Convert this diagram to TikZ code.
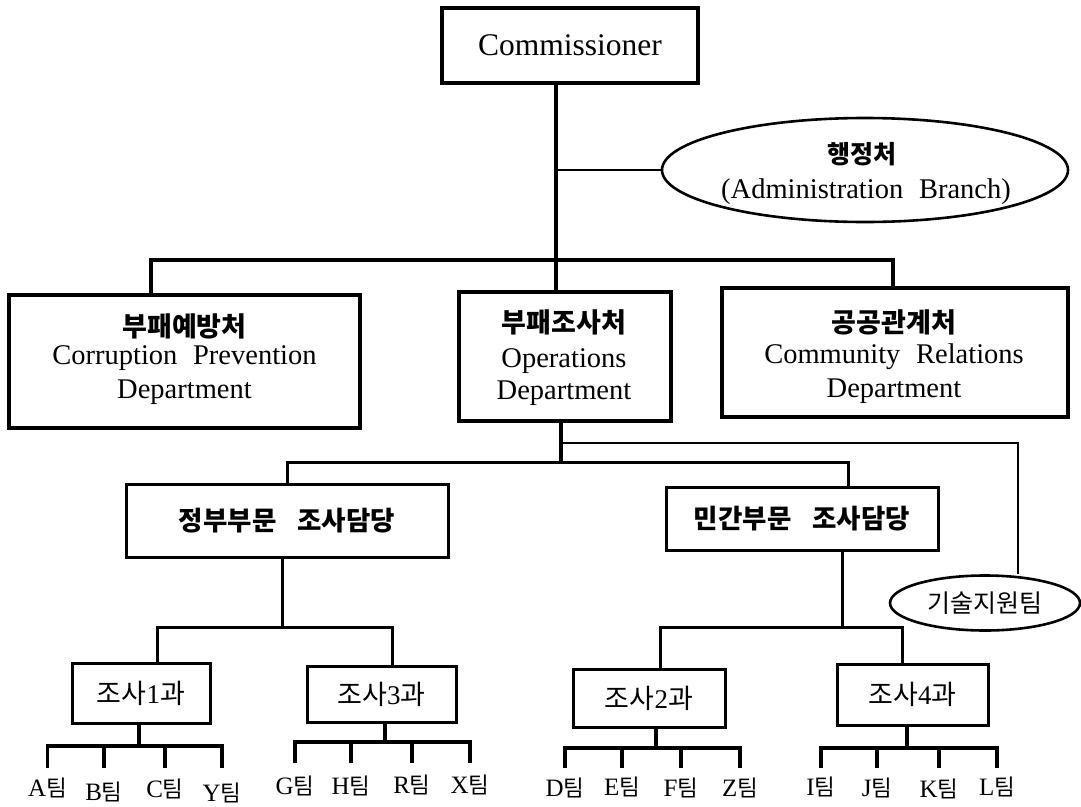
\documentclass[tikz,border=0pt]{standalone}
\usepackage{fontspec}
\setmainfont{Liberation Serif}
\newfontfamily\kr{Noto Sans CJK KR}
\usetikzlibrary{shapes.geometric}
\newcommand\kor[1]{{\kr #1}}
\newcommand\korb[1]{{\kr\bfseries #1}}
\newcommand\tm{{\kr\fontsize{22.5}{26}\selectfont 팀}}
\begin{document}
\begin{tikzpicture}[x=1pt,y=-1pt,
  bigbox/.style={draw, rectangle, line width=3.8pt, inner sep=0pt},
  midbox/.style={draw, rectangle, line width=3pt, inner sep=0pt},
  smallbox/.style={draw, rectangle, line width=3pt, inner sep=0pt, font=\fontsize{27}{31}\selectfont},
  oval/.style={draw, ellipse, line width=2.6pt, inner sep=0pt},
  thk/.style={line width=3.6pt},
  med/.style={line width=3pt},
  thin/.style={line width=2.6pt},
  tl/.style={line width=3.3pt, line join=miter},
  en/.style={inner sep=0pt, anchor=base, font=\fontsize{28.5}{34}\selectfont},
  hk/.style={inner sep=0pt, font=\fontsize{27}{31}\selectfont},
  team/.style={inner sep=0pt, anchor=base, font=\fontsize{25}{28}\selectfont}]
\useasboundingbox (0,0) rectangle (1081,806);
\fill[white] (0,0) rectangle (1081,806);

% ---- top level ----
\node[bigbox, minimum width=256pt, minimum height=75pt, font=\fontsize{31.5}{36}\selectfont] (comm) at (570,45.5) {Commissioner};

\node[oval, minimum width=406pt, minimum height=104pt] (admin) at (865,170) {};
\node[hk, font=\fontsize{25}{29}\selectfont] (adminK) at (862,154) {\korb{행정처}};
\node[en] (adminE) at (866,198) {(Administration\hspace*{0.3em} Branch)};

% ---- departments ----
\node[bigbox, minimum width=351pt, minimum height=133pt] (cpd) at (184.5,361.5) {};
\node[hk] (cpdK) at (184.5,326) {\korb{부패예방처}};
\node[en] (cpdE1) at (184.5,364) {Corruption\hspace*{0.3em} Prevention};
\node[en] (cpdE2) at (184.5,398) {Department};

\node[bigbox, minimum width=212pt, minimum height=129pt] (ops) at (565,356.5) {};
\node[hk] (opsK) at (564,322) {\korb{부패조사처}};
\node[en] (opsE1) at (564,367) {Operations};
\node[en] (opsE2) at (564,399) {Department};

\node[bigbox, minimum width=346pt, minimum height=129pt] (crd) at (895,352.5) {};
\node[hk] (crdK) at (894,322) {\korb{공공관계처}};
\node[en] (crdE1) at (894,363) {Community\hspace*{0.3em} Relations};
\node[en] (crdE2) at (894,397) {Department};

% ---- divisions ----
\node[midbox, minimum width=322pt, minimum height=73pt, font=\fontsize{26.5}{30}\selectfont] (gov) at (287,520.5) {\korb{정부부문\hspace*{0.8em}조사담당}};
\node[midbox, minimum width=272pt, minimum height=63pt, font=\fontsize{26.5}{30}\selectfont] (priv) at (802,518.5) {\korb{민간부문\hspace*{0.8em}조사담당}};
\node[oval, minimum width=190pt, minimum height=55pt, font=\fontsize{25}{29}\selectfont] (tech) at (985,603) {\kor{기술지원팀}};

% ---- sections ----
\node[smallbox, minimum width=138pt, minimum height=60pt] (s1) at (141,693) {\kor{조사}1\kor{과}};
\node[smallbox, minimum width=149pt, minimum height=56pt] (s3) at (381.5,694) {\kor{조사}3\kor{과}};
\node[smallbox, minimum width=152pt, minimum height=58pt] (s2) at (649,698) {\kor{조사}2\kor{과}};
\node[smallbox, minimum width=151pt, minimum height=61pt] (s4) at (912.5,694.5) {\kor{조사}4\kor{과}};

% ---- teams ----
\node[team] (tA) at (47.5,796) {A\tm};
\node[team] (tB) at (104,800) {B\tm};
\node[team] (tC) at (165,797) {C\tm};
\node[team] (tY) at (222,801) {Y\tm};
\node[team] (tG) at (295,794) {G\tm};
\node[team] (tH) at (351,794) {H\tm};
\node[team] (tR) at (412,793) {R\tm};
\node[team] (tX) at (470,793) {X\tm};
\node[team] (tD) at (565,796) {D\tm};
\node[team] (tE) at (622,795) {E\tm};
\node[team] (tF) at (681,796) {F\tm};
\node[team] (tZ) at (740,796) {Z\tm};
\node[team] (tI) at (821,795) {I\tm};
\node[team] (tJ) at (877,796) {J\tm};
\node[team] (tK) at (939,797) {K\tm};
\node[team] (tL) at (997,795) {L\tm};

% ---- junction coordinates ----
\coordinate (bC) at (556,260);
\coordinate (bL) at (151,260);
\coordinate (bR) at (893,260);
\coordinate (oB) at (561,462);
\coordinate (tJn) at (561,443);
\coordinate (tRt) at (1018,443);
\coordinate (gL) at (287,462);
\coordinate (gR) at (848,462);
\coordinate (g1) at (282,627);
\coordinate (g1L) at (157,627);
\coordinate (g1R) at (392,627);
\coordinate (p1) at (842,627);
\coordinate (p1L) at (660,627);
\coordinate (p1R) at (902,627);
\coordinate (s1J) at (139,746);
\coordinate (s3J) at (385,742);
\coordinate (s2J) at (656,748);
\coordinate (s4J) at (907,748);
\coordinate (eA) at (0,768);
\coordinate (eG) at (0,763);

% ---- connectors ----
\draw[thk] (comm.south -| bC) -- (bC);
\draw[thin] (admin.west -| bC) -- (admin.west);
\draw[thk, line join=miter] (cpd.north -| bL) |- (bC) -| (crd.north -| bR);
\draw[thk] (bC) -- (ops.north -| bC);

\draw[thk] (ops.south -| oB) -- (oB);
\draw[thin, line join=miter] (tJn) -| (tRt |- tech.north);
\draw[med, line join=miter] (gov.north -| gL) |- (oB) -| (priv.north -| gR);

\draw[med] (gov.south -| g1) -- (g1);
\draw[med, line join=miter] (s1.north -| g1L) |- (g1) -| (s3.north -| g1R);
\draw[med] (priv.south -| p1) -- (p1);
\draw[med, line join=miter] (s2.north -| p1L) |- (p1) -| (s4.north -| p1R);

\draw[tl] (s1.south -| s1J) -- (s1J);
\draw[tl] (tA.north |- eA) |- (s1J) -| (tY.north |- eA);
\draw[tl] (tB.north |- s1J) -- (tB.north |- eA);
\draw[tl] (tC.north |- s1J) -- (tC.north |- eA);

\draw[tl] (s3.south -| s3J) -- (s3J);
\draw[tl] (tG.north |- eG) |- (s3J) -| (tX.north |- eG);
\draw[tl] (tH.north |- s3J) -- (tH.north |- eG);
\draw[tl] (tR.north |- s3J) -- (tR.north |- eG);

\draw[tl] (s2.south -| s2J) -- (s2J);
\draw[tl] (tD.north |- eA) |- (s2J) -| (tZ.north |- eA);
\draw[tl] (tE.north |- s2J) -- (tE.north |- eA);
\draw[tl] (tF.north |- s2J) -- (tF.north |- eA);

\draw[tl] (s4.south -| s4J) -- (s4J);
\draw[tl] (tI.north |- eA) |- (s4J) -| (tL.north |- eA);
\draw[tl] (tJ.north |- s4J) -- (tJ.north |- eA);
\draw[tl] (tK.north |- s4J) -- (tK.north |- eA);
\end{tikzpicture}
\end{document}
